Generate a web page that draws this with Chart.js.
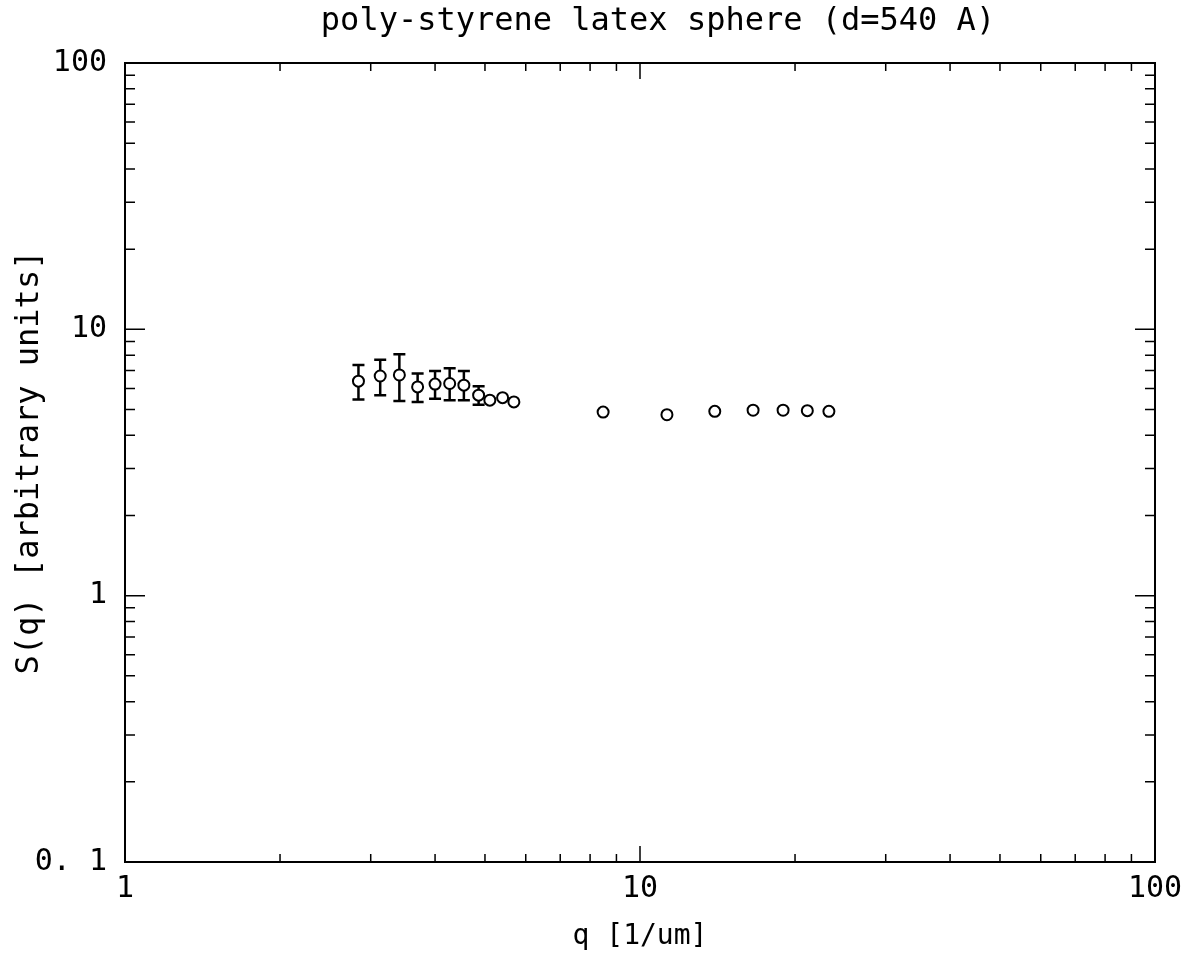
<!DOCTYPE html>
<html lang="en">

<head>
    <meta charset="UTF-8">
    <title>poly-styrene latex sphere</title>
    <script src="https://cdn.jsdelivr.net/npm/chart.js"></script>
    <style>
        html, body { margin: 0; padding: 0; background: #fff; }
        #wrap { width: 1184px; height: 960px; }
    </style>
</head>

<body>
    <div id="wrap">
        <canvas id="myChart" width="1184" height="960"></canvas>
    </div>
    <script>
        // values
        const q = [2.84, 3.13, 3.41, 3.70, 4.00, 4.27, 4.55, 4.86, 5.11, 5.41, 5.69,
                   8.48, 11.28, 13.97, 16.58, 18.96, 21.13, 23.27];
        const sq = [6.39, 6.68, 6.74, 6.08, 6.23, 6.26, 6.17, 5.66, 5.42, 5.54, 5.34,
                    4.89, 4.78, 4.92, 4.97, 4.97, 4.95, 4.92];
        // error bar ends (null = no bar)
        const errHigh = [7.35, 7.68, 8.06, 6.83, 6.98, 7.14, 6.98, 6.12, null, null, null,
                         null, null, null, null, null, null, null];
        const errLow = [5.45, 5.66, 5.38, 5.34, 5.49, 5.42, 5.42, 5.21, null, null, null,
                        null, null, null, null, null, null, null];
        const xDecades = [1, 10, 100];
        const yDecades = [0.1, 1, 10, 100];
        const yLabels = { 0.1: '0. 1', 1: '1', 10: '10', 100: '100' };

        const titleText = 'poly-styrene latex sphere (d=540 A)';
        const mono = '"DejaVu Sans Mono", monospace';

        const points = q.map((v, i) => ({ x: v, y: sq[i] }));

        // minor tick values for each decade
        function logTicks(min, max) {
            const out = [];
            for (let d = min; d < max; d *= 10) {
                for (let k = 1; k < 10; k++) out.push({ v: d * k, major: k === 1 });
            }
            out.push({ v: max, major: true });
            return out;
        }

        const framePlugin = {
            id: 'frame',
            afterDatasetsDraw(chart) {
                const { ctx, chartArea: a, scales: { x, y } } = chart;
                ctx.save();
                ctx.strokeStyle = '#000';
                // frame
                ctx.lineWidth = 2;
                ctx.strokeRect(a.left, a.top, a.right - a.left, a.bottom - a.top);
                // ticks on all sides
                ctx.lineWidth = 1.5;
                ctx.beginPath();
                logTicks(1, 100).forEach(t => {
                    const px = x.getPixelForValue(t.v);
                    const len = t.major ? 16 : 8;
                    ctx.moveTo(px, a.bottom); ctx.lineTo(px, a.bottom - len);
                    ctx.moveTo(px, a.top); ctx.lineTo(px, a.top + len);
                });
                logTicks(0.1, 100).forEach(t => {
                    const py = y.getPixelForValue(t.v);
                    const len = t.major ? 20 : 10;
                    ctx.moveTo(a.left, py); ctx.lineTo(a.left + len, py);
                    ctx.moveTo(a.right, py); ctx.lineTo(a.right - len, py);
                });
                ctx.stroke();
                ctx.restore();
            },
            beforeDatasetsDraw(chart) {
                // error bars
                const { ctx, scales: { x, y } } = chart;
                ctx.save();
                ctx.strokeStyle = '#000';
                ctx.lineWidth = 2.5;
                ctx.beginPath();
                q.forEach((v, i) => {
                    if (errHigh[i] == null) return;
                    const px = x.getPixelForValue(v);
                    const top = y.getPixelForValue(errHigh[i]);
                    const bot = y.getPixelForValue(errLow[i]);
                    ctx.moveTo(px, top); ctx.lineTo(px, bot);
                    ctx.moveTo(px - 6, top); ctx.lineTo(px + 6, top);
                    ctx.moveTo(px - 6, bot); ctx.lineTo(px + 6, bot);
                });
                ctx.stroke();
                ctx.restore();
            },
            afterDraw(chart) {
                const { ctx } = chart;
                ctx.save();
                ctx.fillStyle = '#000';
                ctx.font = '32px ' + mono;
                ctx.textAlign = 'center';
                ctx.textBaseline = 'middle';
                ctx.fillText(titleText, 658, 22);
                ctx.restore();
            }
        };

        const config = {
            type: 'scatter',
            data: {
                datasets: [{
                    label: 'S(q)',
                    data: points,
                    pointStyle: 'circle',
                    pointRadius: 5.5,
                    pointBorderWidth: 2,
                    borderColor: '#000',
                    backgroundColor: '#fff',
                    pointHoverRadius: 5.5,
                }]
            },
            options: {
                responsive: false,
                animation: false,
                layout: { padding: { top: 63, right: 29, left: 0, bottom: 0 } },
                plugins: {
                    legend: { display: false },
                    tooltip: { enabled: false },
                },
                scales: {
                    x: {
                        type: 'logarithmic',
                        min: 1,
                        max: 100,
                        afterBuildTicks: s => { s.ticks = xDecades.map(v => ({ value: v })); },
                        afterFit: s => { s.height = 98; s.paddingLeft = 0; s.paddingRight = 0; },
                        grid: { display: false, drawTicks: false },
                        border: { display: false },
                        ticks: {
                            color: '#000',
                            font: { family: mono, size: 30 },
                            padding: 9,
                            maxRotation: 0,
                            callback: v => String(v),
                        },
                        title: {
                            display: true,
                            text: 'q [1/um]',
                            color: '#000',
                            font: { family: mono, size: 28 },
                            padding: { top: 0, bottom: 6 },
                        },
                    },
                    y: {
                        type: 'logarithmic',
                        min: 0.1,
                        max: 100,
                        afterBuildTicks: s => { s.ticks = yDecades.map(v => ({ value: v })); },
                        afterFit: s => { s.width = 125; s.paddingTop = 0; s.paddingBottom = 0; },
                        grid: { display: false, drawTicks: false },
                        border: { display: false },
                        ticks: {
                            color: '#000',
                            font: { family: mono, size: 30 },
                            padding: 18,
                            callback: v => yLabels[v] || '',
                        },
                        title: {
                            display: true,
                            text: 'S(q) [arbitrary units]',
                            color: '#000',
                            font: { family: mono, size: 32 },
                            padding: { top: 10, bottom: 0 },
                        },
                    },
                },
            },
            plugins: [framePlugin],
        };

        var myChart = new Chart(document.getElementById('myChart'), config);
    </script>
</body>

</html>
